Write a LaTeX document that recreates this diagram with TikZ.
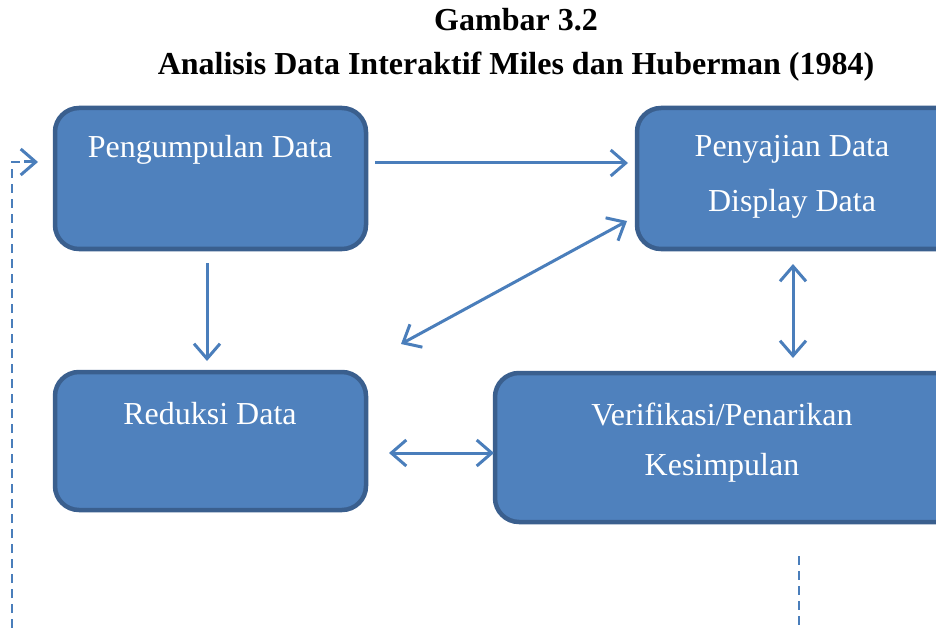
\documentclass[tikz,border=0pt]{standalone}
\usepackage{fontspec}
\setmainfont{Liberation Serif}
\usetikzlibrary{arrows.meta}
\definecolor{boxfill}{HTML}{4F81BD}
\definecolor{boxline}{HTML}{3A5F8E}
\definecolor{arrowblue}{HTML}{4A7EBB}
\tikzset{
  stagebox/.style={draw=boxline, line width=4.5pt, fill=boxfill, rounded corners=24pt, inner sep=0pt},
  stagetext/.style={text=white, font=\fontsize{32}{55}\selectfont},
  tip/.tip={Straight Barb[length=15pt,width=26pt,line width=3pt]},
  link/.style={draw=arrowblue, line width=3pt, -tip},
  twolink/.style={draw=arrowblue, line width=3pt, tip-tip},
  loopline/.style={draw=arrowblue, line width=1.8pt, dash pattern=on 9pt off 6pt}
}
\begin{document}
\begin{tikzpicture}[x=1pt,y=-1pt]
\clip (0,0) rectangle (936,628);
\fill[white] (0,0) rectangle (936,628);

% title
\node[font=\bfseries\fontsize{32}{38}\selectfont] (t1) at (516,20) {Gambar 3.2};
\node[font=\bfseries\fontsize{32}{38}\selectfont] (t2) at (516,67) {Analisis Data Interaktif Miles dan Huberman (1984)};

% stage boxes
\node[stagebox, minimum width=311pt, minimum height=141pt] (kumpul) at (210.5,178.5) {};
\node[stagetext] (kumpulT) at (210,150) {Pengumpulan Data};

\node[stagebox, minimum width=330pt, minimum height=141pt] (saji) at (802,178.5) {};
\node[stagetext] (sajiT1) at (792,149) {Penyajian Data};
\node[stagetext] (sajiT2) at (792,204) {Display Data};

\node[stagebox, minimum width=311pt, minimum height=138pt] (reduksi) at (210.5,441) {};
\node[stagetext] (reduksiT) at (210,414) {Reduksi Data};

\node[stagebox, minimum width=470pt, minimum height=149pt] (verif) at (730,447.5) {};
\node[stagetext] (verifT1) at (722,414) {Verifikasi/Penarikan};
\node[stagetext] (verifT2) at (722,468) {Kesimpulan};

% connector end points
\coordinate (a1) at (375,163);
\coordinate (a2) at (628,163);
\coordinate (b1) at (207,263);
\coordinate (b2) at (207,361);
\coordinate (c1) at (401,344);
\coordinate (c2) at (627,221);
\coordinate (d1) at (793,264);
\coordinate (d2) at (793,358);
\coordinate (e1) at (389,453);
\coordinate (e2) at (494,453);
\coordinate (f0) at (12,628);
\coordinate (f1) at (12,162);
\coordinate (f2) at (38,162);
\coordinate (g1) at (799,556);
\coordinate (g2) at (799,628);

\draw[link] (a1) -- (a2);
\draw[link] (b1) -- (b2);
\draw[twolink] (c1) -- (c2);
\draw[twolink] (d1) -- (d2);
\draw[twolink] (e1) -- (e2);
\draw[loopline] (f0) -- (f1) -- (22,162);
\draw[link] (24,162) -- (f2);
\draw[loopline] (g1) -- (g2);
\end{tikzpicture}
\end{document}
